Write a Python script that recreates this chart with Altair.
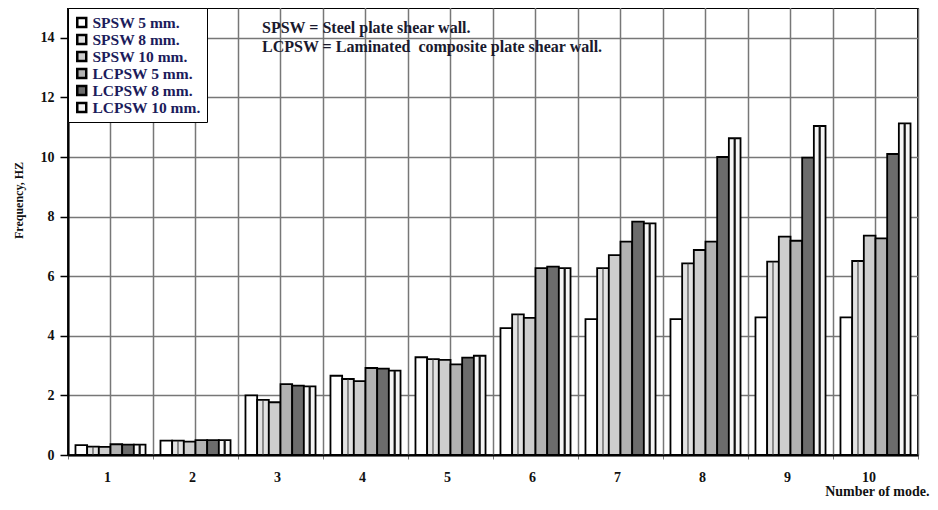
import altair as alt
import pandas as pd

modes = [str(i) for i in range(1, 11)]
series = ["SPSW 5 mm.", "SPSW 8 mm.", "SPSW 10 mm.", "LCPSW 5 mm.", "LCPSW 8 mm.", "LCPSW 10 mm."]
spsw5 = [0.33, 0.48, 2.00, 2.66, 3.28, 4.26, 4.56, 4.56, 4.62, 4.62]
spsw8 = [0.28, 0.48, 1.85, 2.55, 3.22, 4.72, 6.27, 6.43, 6.49, 6.51]
spsw10 = [0.27, 0.45, 1.77, 2.48, 3.19, 4.60, 6.71, 6.88, 7.33, 7.36]
lcpsw5 = [0.36, 0.50, 2.38, 2.92, 3.04, 6.27, 7.16, 7.16, 7.19, 7.27]
lcpsw8 = [0.35, 0.50, 2.33, 2.90, 3.27, 6.32, 7.83, 10.00, 9.98, 10.10]
lcpsw10 = [0.35, 0.50, 2.30, 2.83, 3.33, 6.27, 7.77, 10.63, 11.04, 11.13]
fills = ["#ffffff", "#e2e2e2", "#cdcdcd", "#b2b2b2", "#6c6c6c", "#f4f4f4"]
notes = ["SPSW = Steel plate shear wall.", "LCPSW = Laminated \u00a0composite plate shear wall."]

values = [spsw5, spsw8, spsw10, lcpsw5, lcpsw8, lcpsw10]
rows = []
for s, vals in zip(series, values):
    for m, v in zip(modes, vals):
        rows.append({"mode": m, "series": s, "value": v})
df = pd.DataFrame(rows)

W, H = 850, 447
SERIF = "Liberation Serif"
GRID = "#777777"

x_enc = alt.X("mode:N", sort=modes,
              scale=alt.Scale(domain=modes, paddingInner=0, paddingOuter=0),
              axis=alt.Axis(title="Number of mode.", labelAngle=0, tickBand="extent",
                            grid=True, gridColor=GRID, gridWidth=1.5,
                            domainColor="black", domainWidth=2,
                            tickColor=GRID, tickSize=4, labelPadding=18,
                            labelFont=SERIF, labelFontWeight="bold", labelFontSize=14,
                            labelColor="#111111",
                            titleFont=SERIF, titleFontWeight="bold", titleFontSize=14,
                            titleColor="#111111", titleAlign="right", titleBaseline="middle",
                            titleX=861, titleY=36))
xo_enc = alt.XOffset("series:N", sort=series,
                     scale=alt.Scale(domain=series, paddingInner=0, paddingOuter=0.64))
y_enc = alt.Y("value:Q",
              scale=alt.Scale(domain=[0, 15], nice=False),
              axis=alt.Axis(title="Frequency, HZ", values=[0, 2, 4, 6, 8, 10, 12, 14],
                            grid=True, gridColor=GRID, gridWidth=1.5,
                            domainColor="black", domainWidth=2,
                            tickColor="black", tickSize=8, tickWidth=1.5, labelPadding=6,
                            labelFont=SERIF, labelFontWeight="bold", labelFontSize=14,
                            labelColor="#111111",
                            titleFont=SERIF, titleFontWeight="bold", titleFontSize=12,
                            titleColor="#111111", titleX=-50, titleY=192,
                            titleAlign="center", titleBaseline="middle"))

base = alt.Chart(df)

center_rules = alt.Chart(pd.DataFrame({"mode": modes})).mark_rule(
    color=GRID, strokeWidth=1.5).encode(
    x=alt.X("mode:N", sort=modes), y=alt.value(0), y2=alt.value(H))

bars = base.mark_bar(stroke="black", strokeWidth=1.8).encode(
    x=x_enc, xOffset=xo_enc, y=y_enc,
    fill=alt.Fill("series:N", sort=series,
                  scale=alt.Scale(domain=series, range=fills),
                  legend=alt.Legend(title=None, orient="top-left", offset=0,
                                    symbolType="square", symbolSize=80,
                                    symbolStrokeColor="black", symbolStrokeWidth=2.5,
                                    labelFont=SERIF, labelFontWeight="bold",
                                    labelFontSize=15.5, labelColor="#1c1c5c",
                                    labelOffset=3, padding=6, rowPadding=0,
                                    clipHeight=17,
                                    strokeColor="black", fillColor="white")))

stripes10 = base.transform_filter(alt.datum.series == series[5]).mark_rule(
    color="#111111", strokeWidth=2.2).encode(
    x=alt.X("mode:N", sort=modes), xOffset=alt.XOffset("series:N", sort=series),
    y=alt.Y("value:Q"), y2=alt.datum(0))

stripes8 = base.transform_filter(alt.datum.series == series[1]).mark_rule(
    color="#333333", strokeWidth=1).encode(
    x=alt.X("mode:N", sort=modes), xOffset=alt.XOffset("series:N", sort=series),
    y=alt.Y("value:Q"), y2=alt.datum(0))

note_df = pd.DataFrame({"t": notes})
text1 = alt.Chart(note_df.iloc[[0]]).mark_text(
    align="left", baseline="middle", font=SERIF, fontWeight="bold", fontSize=16,
    color="#1a1a2e").encode(text="t:N", x=alt.value(194), y=alt.value(20))
text2 = alt.Chart(note_df.iloc[[1]]).mark_text(
    align="left", baseline="middle", font=SERIF, fontWeight="bold", fontSize=16,
    color="#1a1a2e").encode(text="t:N", x=alt.value(194), y=alt.value(38.5))

chart = alt.layer(center_rules, bars, stripes8, stripes10, text1, text2).properties(
    width=W, height=H,
    autosize=alt.AutoSizeParams(type="none"),
    padding={"left": 60, "top": 0, "right": 12, "bottom": 42},
).configure_view(stroke="black", strokeWidth=2)

chart.save("out.html", embed_options={"renderer": "svg", "actions": False})
